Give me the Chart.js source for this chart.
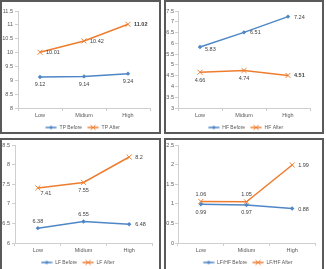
<!DOCTYPE html>
<html><head><meta charset="utf-8">
<script src="https://cdn.jsdelivr.net/npm/chart.js@4.4.1/dist/chart.umd.min.js"></script>
<style>
html,body{margin:0;padding:0;background:#fff;width:326px;height:269px;overflow:hidden;position:relative}
.panel{position:absolute;border:2px solid #5a5a5a;box-sizing:border-box;background:#fff;overflow:hidden}
.panel canvas{position:absolute;left:0;top:0}
</style></head><body>
<div class="panel" style="left:0;top:0;width:161px;height:134px"><canvas id="c1"></canvas></div>
<div class="panel" style="left:164px;top:0;width:160px;height:134px"><canvas id="c2"></canvas></div>
<div class="panel" style="left:0;top:138px;width:161px;height:140px"><canvas id="c3"></canvas></div>
<div class="panel" style="left:164px;top:138px;width:160px;height:140px"><canvas id="c4"></canvas></div>
<script>
// ---- data ----
const categories = ['Low', 'Midium', 'High'];
const tpSeries = ['TP Before', 'TP After'];
const tpBefore = [9.12, 9.14, 9.24];
const tpAfter = [10.01, 10.42, 11.02];
const hfSeries = ['HF Before', 'HF After'];
const hfBefore = [5.83, 6.51, 7.24];
const hfAfter = [4.66, 4.74, 4.51];
const lfSeries = ['LF Before', 'LF After'];
const lfBefore = [6.38, 6.55, 6.48];
const lfAfter = [7.41, 7.55, 8.2];
const ratioSeries = ['LF/HF Before', 'LF/HF After'];
const ratioBefore = [0.99, 0.97, 0.88];
const ratioAfter = [1.06, 1.05, 1.99];
const tpRange = [8, 11.5];
const hfRange = [3, 7.5];
const lfRange = [6, 8.5];
const ratioRange = [0, 2.5];

// ---- style ----
const FONT = '"Liberation Sans", Arial, sans-serif';
const FS = 5.5;
const LFS = 5;
const BLUE = '#4f86c6';
const ORANGE = '#ee7d30';
const AXIS = '#cfcfcf';
const TEXT = '#595959';

function legendIcon(color, style) {
  const c = document.createElement('canvas');
  c.width = 12; c.height = 8;
  const g = c.getContext('2d');
  g.strokeStyle = color; g.lineWidth = 1.5;
  g.beginPath(); g.moveTo(0.5, 4); g.lineTo(11.5, 4); g.stroke();
  g.fillStyle = color; g.lineWidth = 1;
  if (style === 'rectRot') {
    g.beginPath(); g.moveTo(6, 2); g.lineTo(8, 4); g.lineTo(6, 6); g.lineTo(4, 4); g.closePath(); g.fill();
  } else {
    g.beginPath(); g.moveTo(3.5, 1.5); g.lineTo(8.5, 6.5); g.moveTo(8.5, 1.5); g.lineTo(3.5, 6.5); g.stroke();
  }
  return c;
}

const valueLabels = {
  id: 'valueLabels',
  afterDatasetsDraw(chart, args, opts) {
    const ctx = chart.ctx;
    chart.data.datasets.forEach((ds, di) => {
      const meta = chart.getDatasetMeta(di);
      meta.data.forEach((pt, i) => {
        const place = opts.places[di][i];
        const bold = opts.bold && opts.bold[di] === i;
        ctx.save();
        ctx.font = (bold ? 'bold ' : '') + FS + 'px ' + FONT;
        ctx.fillStyle = '#404040';
        let x = pt.x, y = pt.y;
        if (place === 'right') { ctx.textAlign = 'left'; ctx.textBaseline = 'middle'; x += 6; y += 0.5; }
        else if (place === 'rightBelow') { ctx.textAlign = 'left'; ctx.textBaseline = 'middle'; x += 5; y += 2; }
        else if (place === 'below') { ctx.textAlign = 'center'; ctx.textBaseline = 'middle'; y += 8; }
        else if (place === 'belowRight') { ctx.textAlign = 'center'; ctx.textBaseline = 'middle'; x += 8; y += 6; }
        else if (place === 'above') { ctx.textAlign = 'center'; ctx.textBaseline = 'middle'; y -= 7; }
        ctx.fillText(String(ds.data[i]), x, y);
        ctx.restore();
      });
    });
  }
};

// shifts the legend block horizontally so it sits where the reference has it
const legendShift = {
  id: 'legendShift',
  afterLayout(chart, args, opts) {
    const lg = chart.legend;
    if (lg) { lg.left += opts.dx; lg.right += opts.dx; }
  }
};

function makeChart(id, w, h, names, before, after, range, lay, places, bold) {
  const cv = document.getElementById(id);
  cv.width = w; cv.height = h;
  cv.style.width = w + 'px'; cv.style.height = h + 'px';
  return new Chart(cv, {
    type: 'line',
    data: {
      labels: categories,
      datasets: [
        { label: names[0], data: before, yAxisID: 'y', borderColor: BLUE, backgroundColor: BLUE, borderWidth: 1.5,
          pointStyle: 'rectRot', pointRadius: 2.2, pointBorderWidth: 0, tension: 0 },
        { label: names[1], data: after, yAxisID: 'y', borderColor: ORANGE, backgroundColor: ORANGE, borderWidth: 1.5,
          pointStyle: 'crossRot', pointRadius: 3.5, pointBorderWidth: 1, tension: 0 }
      ]
    },
    options: {
      responsive: false, animation: false, devicePixelRatio: 1,
      layout: { padding: { left: 0, right: 0, top: lay.top, bottom: 0 } },
      scales: {
        x: {
          offset: true,
          grid: { offset: true, drawOnChartArea: false, drawTicks: true, tickLength: 3, color: AXIS },
          border: { display: true, color: AXIS, width: 1 },
          ticks: { color: TEXT, font: { family: FONT, size: FS }, padding: 1, maxRotation: 0 },
          afterFit(s) { s.height = 12; }
        },
        y: {
          min: range[0], max: range[1],
          grid: { drawOnChartArea: false, drawTicks: true, tickLength: 3, color: AXIS },
          border: { display: true, color: AXIS, width: 1 },
          ticks: { stepSize: 0.5, color: TEXT, font: { family: FONT, size: FS }, padding: lay.tickPad,
                   callback: v => String(v) },
          afterFit(s) { s.width = lay.left; }
        },
        yR: {
          position: 'right', min: 0, max: 1,
          grid: { display: false }, border: { display: false }, ticks: { display: false },
          afterFit(s) { s.width = lay.right; }
        }
      },
      plugins: {
        tooltip: { enabled: false },
        legend: {
          position: 'bottom',
          labels: {
            usePointStyle: true, pointStyleWidth: 12, padding: 5, color: TEXT,
            font: { family: FONT, size: LFS },
            generateLabels: ch => ch.data.datasets.map((ds, i) => ({
              text: ds.label, pointStyle: legendIcon(ds.borderColor, ds.pointStyle),
              fillStyle: ds.borderColor, strokeStyle: ds.borderColor, lineWidth: 0,
              hidden: false, datasetIndex: i, fontColor: TEXT
            }))
          }
        },
        legendShift: { dx: lay.legendDx },
        valueLabels: { places, bold }
      }
    },
    plugins: [valueLabels, legendShift]
  });
}

makeChart('c1', 157, 138, tpSeries, tpBefore, tpAfter, tpRange,
  { left: 16, right: 9, top: 9, tickPad: 2, legendDx: 2 },
  [['below', 'below', 'below'], ['right', 'right', 'right']], [-1, 2]);
makeChart('c2', 156, 138, hfSeries, hfBefore, hfAfter, hfRange,
  { left: 12, right: 12, top: 9, tickPad: 1, legendDx: 1.5 },
  [['rightBelow', 'right', 'right'], ['below', 'below', 'right']], [-1, 2]);
makeChart('c3', 157, 135, lfSeries, lfBefore, lfAfter, lfRange,
  { left: 13, right: 7, top: 5, tickPad: 2, legendDx: -3 },
  [['above', 'above', 'right'], ['belowRight', 'below', 'right']], null);
makeChart('c4', 156, 135, ratioSeries, ratioBefore, ratioAfter, ratioRange,
  { left: 12, right: 7, top: 5, tickPad: 1, legendDx: 3.5 },
  [['below', 'below', 'right'], ['above', 'above', 'right']], null);
</script>
</body></html>
